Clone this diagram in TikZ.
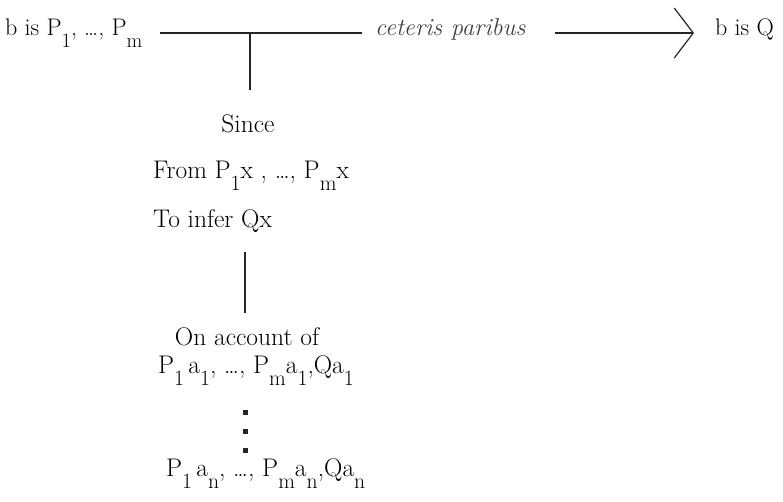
\documentclass[tikz,border=0pt]{standalone}
\usetikzlibrary{arrows.meta}

\newcommand{\lowsub}[1]{\raisebox{-0.5em}{\scalebox{0.85}{#1}}}

\tikzset{
  toprow/.style={inner sep=0pt, font=\fontsize{24}{28}\selectfont},
  block/.style={inner sep=0pt, font=\fontsize{25.5}{30}\selectfont},
  link/.style={line width=1.2pt, black!85},
}

\begin{document}
\begin{tikzpicture}[x=1pt, y=-1pt]
    \useasboundingbox (0,0) rectangle (783,501);

    % top row
    \node[toprow, anchor=base west] (premise) at (5,35) {b is P\lowsub{1}, \dots, P\lowsub{m}};
    \node[toprow, anchor=base west] (conclusion) at (715,35) {b is Q};
    \node[toprow, anchor=base west, font=\fontsize{24.5}{28}\selectfont\itshape, black!75] (cp) at (375,35) {ceteris paribus};
    \coordinate (lstart) at (160,33);
    \coordinate (junction) at (250,33);
    \coordinate (lend) at (362,33);
    \coordinate (astart) at (555,33);
    \coordinate (tip) at (694,33);

    \draw[link] (lstart) -- (lend);
    \draw[link, -{Straight Barb[length=19pt, width=50pt, line width=1.2pt]}] (astart) -- (tip);

    % warrant
    \node[block, anchor=base] (since) at (248,132) {Since};
    \node[block, anchor=base west] (from) at (153,178) {From P\lowsub{1}x , \dots, P\lowsub{m}x};
    \node[block, anchor=base west] (toinfer) at (153,227) {To infer Qx};
    \coordinate (wtop) at (250,90);
    \draw[link] (junction) -- (wtop);

    % backing
    \node[block, anchor=base] (onaccount) at (247,345) {On account of};
    \node[block, anchor=base west] (firstcase) at (158,373) {P\lowsub{1}\,a\lowsub{1}, \dots, P\lowsub{m}a\lowsub{1},Qa\lowsub{1}};
    \node[block, anchor=base west] (lastcase) at (166,476) {P\lowsub{1}\,a\lowsub{n}, \dots, P\lowsub{m}a\lowsub{n},Qa\lowsub{n}};
    \coordinate (wbottom) at (245,252);
    \coordinate (btop) at (245,313);
    \draw[link] (wbottom) -- (btop);
    \foreach \y in {412,431,450}
        \fill[black!85] (243,\y-2.5) rectangle +(4.5,5);
\end{tikzpicture}
\end{document}
